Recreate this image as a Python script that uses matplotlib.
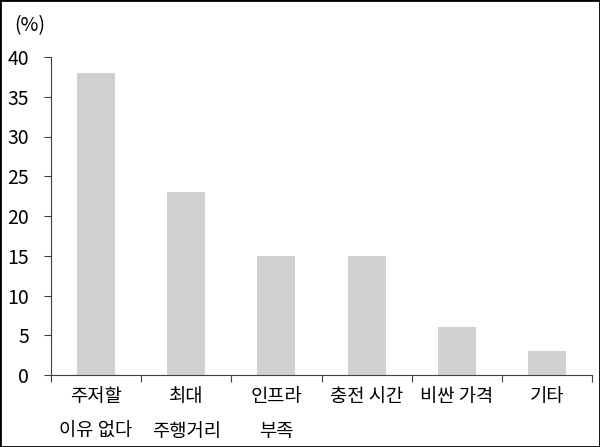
import matplotlib
matplotlib.use("Agg")
import matplotlib.pyplot as plt
from matplotlib.patches import Rectangle

plt.rcParams['font.family'] = ['Noto Sans CJK KR', 'DejaVu Sans']

categories = ["주저할\n이유 없다", "최대\n주행거리", "인프라\n부족", "충전 시간", "비싼 가격", "기타"]
values = [38, 23, 15, 15, 6, 3]
yticks = [0, 5, 10, 15, 20, 25, 30, 35, 40]

fig = plt.figure(figsize=(6.0, 4.47), dpi=100)
ax = fig.add_axes([51/600, 72/447, (592-51)/600, (375-57)/447])

x = list(range(len(categories)))
ax.bar(x, values, width=0.42, color="#d0d0d0", zorder=2)

ax.set_xlim(-0.5, len(categories) - 0.5)
ax.set_ylim(0, 40)
ax.set_yticks(yticks)
ax.set_yticklabels([str(v) for v in yticks], fontsize=14)

ax.set_xticks(x)
ax.set_xticklabels(categories, fontsize=13.5, linespacing=1.85, va="top")
ax.tick_params(axis="x", which="major", length=0, pad=8)
ax.set_xticks([i - 0.5 for i in range(len(categories) + 1)], minor=True)
ax.tick_params(axis="x", which="minor", length=5, direction="out", width=0.8, color="#404040")
ax.tick_params(axis="y", length=5, width=0.8, color="#404040", pad=11)

for s in ["top", "right"]:
    ax.spines[s].set_visible(False)
for s in ["left", "bottom"]:
    ax.spines[s].set_color("#404040")
    ax.spines[s].set_linewidth(0.8)

fig.text(14/600, 1 - 26/447, "(%)", fontsize=14, va="center", ha="left")

fig.add_artist(Rectangle((0, 0), 1, 1, transform=fig.transFigure, fill=False,
                         edgecolor="black", linewidth=2))

fig.savefig("out.png", dpi=100)
